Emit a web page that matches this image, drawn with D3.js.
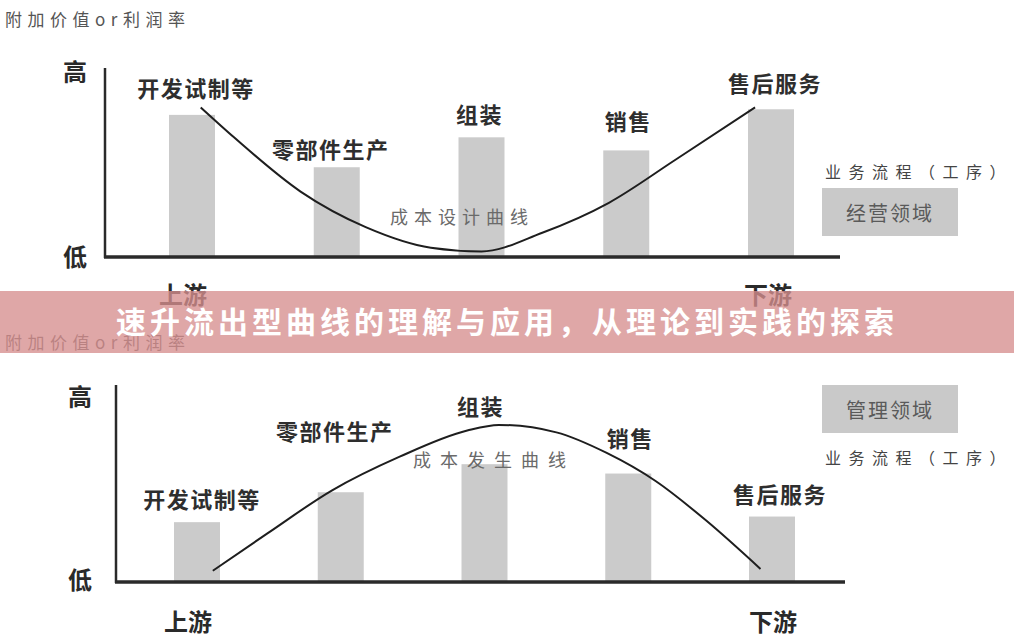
<!DOCTYPE html>
<html><head><meta charset="utf-8">
<script src="https://cdn.jsdelivr.net/npm/d3@7"></script>
<style>
html,body{margin:0;padding:0;background:#fff;}
svg{display:block;font-family:"Noto Sans CJK SC","Noto Sans",sans-serif;}
</style></head>
<body><svg id="c" width="1014" height="644"></svg>
<script>
// ---- data ----
const categories = ["开发试制等","零部件生产","组装","销售","售后服务"];
const designBars = [76, 48, 64, 57, 79];          // 上图：附加价值（成本设计）
const occurBars  = [32, 48, 63, 58, 35];          // 下图：成本发生
const designCurvePos = [0.06, 0.29, 0.75, 1.2, 1.65, 2.0, 2.42, 2.88, 3.34, 3.89];
const designCurveVal = [80, 64, 35, 16, 5, 3, 13, 29, 52, 80];
const occurCurvePos  = [0.11, 0.49, 0.94, 1.41, 1.88, 2.1, 2.5, 2.85, 3.19, 3.54, 3.92];
const occurCurveVal  = [6, 26, 49, 67, 81, 84, 80, 69, 54, 33, 7];
const yAxisLabels = ["高", "低"];
const xAxisLabels = ["上游", "下游"];
const yTitle = "附加价值or利润率";
const processLabel = "业务流程（工序）";
const domainLabels = ["经营领域", "管理领域"];
const curveLabels = ["成本设计曲线", "成本发生曲线"];
const bannerText = "速升流出型曲线的理解与应用，从理论到实践的探索";

const svg = d3.select("#c");

const panels = [
  { bars: designBars, cpos: designCurvePos, cval: designCurveVal,
    titleY: 18, axisX: 105, axisTop: 68, base: 257, axisRight: 840,
    xr: [192, 771], yTop: 70,
    labelY: [87, 148, 113, 120, 82], labelDx: [4, -6, -2, 2, 4],
    hiY: 70, loY: 255, hiX: 75, endY: 293, endX: [183, 768],
    curveLabel: curveLabels[0], clX: 462, clY: 216, clSp: 6,
    domain: domainLabels[0], boxY: 188, procY: 171 },
  { bars: occurBars, cpos: occurCurvePos, cval: occurCurveVal,
    titleY: 341, axisX: 116, axisTop: 385, base: 582, axisRight: 845,
    xr: [197, 772], yTop: 395,
    labelY: [498, 430, 405, 437, 493], labelDx: [5, -6, -4, 2, 8],
    hiY: 395, loY: 578, hiX: 80, endY: 620, endX: [188, 773],
    curveLabel: curveLabels[1], clX: 494, clY: 459, clSp: 9,
    domain: domainLabels[1], boxY: 385, procY: 457 }
];

panels.forEach(p => {
  const g = svg.append("g");
  const x = d3.scaleLinear().domain([0, categories.length - 1]).range(p.xr);
  const y = d3.scaleLinear().domain([0, 100]).range([p.base, p.yTop]);
  const barW = 46;

  // title
  g.append("text").attr("x", 5).attr("y", p.titleY).attr("dominant-baseline", "central")
    .attr("font-size", 17).attr("letter-spacing", 5.5).attr("fill", "#555").text(yTitle);

  // bars
  g.selectAll("rect.bar").data(p.bars).join("rect").attr("class", "bar")
    .attr("x", (d, i) => x(i) - barW / 2).attr("width", barW)
    .attr("y", d => y(d)).attr("height", d => y(0) - y(d))
    .attr("fill", "#cbcbcb");

  // axes
  g.append("line").attr("x1", p.axisX).attr("x2", p.axisX).attr("y1", p.axisTop).attr("y2", p.base + 1)
    .attr("stroke", "#2a2a2a").attr("stroke-width", 2.5);
  g.append("line").attr("x1", p.axisX - 1).attr("x2", p.axisRight).attr("y1", p.base).attr("y2", p.base)
    .attr("stroke", "#2a2a2a").attr("stroke-width", 3.5);

  // curve
  const pts = p.cpos.map((v, i) => [v, p.cval[i]]);
  const line = d3.line().x(d => x(d[0])).y(d => y(d[1])).curve(d3.curveMonotoneX);
  g.append("path").attr("d", line(pts)).attr("fill", "none")
    .attr("stroke", "#1e1e1e").attr("stroke-width", 2);

  // category labels
  g.selectAll("text.cat").data(categories).join("text").attr("class", "cat")
    .attr("x", (d, i) => x(i) + p.labelDx[i]).attr("y", (d, i) => p.labelY[i])
    .attr("text-anchor", "middle").attr("dominant-baseline", "central")
    .attr("font-size", 22).attr("font-weight", 700).attr("letter-spacing", 1.5)
    .attr("fill", "#2e2e2e").text(d => d);

  // high / low
  g.append("text").attr("x", p.hiX).attr("y", p.hiY).attr("text-anchor", "middle").attr("dominant-baseline", "central")
    .attr("font-size", 24).attr("font-weight", 700).attr("fill", "#2a2a2a").text(yAxisLabels[0]);
  g.append("text").attr("x", p.hiX).attr("y", p.loY).attr("text-anchor", "middle").attr("dominant-baseline", "central")
    .attr("font-size", 24).attr("font-weight", 700).attr("fill", "#2a2a2a").text(yAxisLabels[1]);
  xAxisLabels.forEach((t, i) => {
    g.append("text").attr("x", p.endX[i]).attr("y", p.endY).attr("text-anchor", "middle").attr("dominant-baseline", "central")
      .attr("font-size", 24).attr("font-weight", 700).attr("fill", "#2a2a2a").text(t);
  });

  // curve label
  g.append("text").attr("x", p.clX).attr("y", p.clY).attr("text-anchor", "middle").attr("dominant-baseline", "central")
    .attr("font-size", 18).attr("letter-spacing", p.clSp).attr("fill", "#6a6a6a").text(p.curveLabel);

  // legend box & process label
  g.append("rect").attr("x", 822).attr("y", p.boxY).attr("width", 136).attr("height", 48).attr("fill", "#c9c9c9");
  g.append("text").attr("x", 890).attr("y", p.boxY + 24).attr("text-anchor", "middle").attr("dominant-baseline", "central")
    .attr("font-size", 20).attr("letter-spacing", 2).attr("fill", "#5a5a5a").text(p.domain);
  g.append("text").attr("x", 825).attr("y", p.procY).attr("dominant-baseline", "central")
    .attr("font-size", 16).attr("letter-spacing", 7.5).attr("fill", "#444").text(processLabel);
});

// banner
svg.append("rect").attr("x", 0).attr("y", 291).attr("width", 1014).attr("height", 62)
  .attr("fill", "rgb(214,142,142)").attr("fill-opacity", 0.78);
svg.append("text").attr("x", 507).attr("y", 320).attr("text-anchor", "middle").attr("dominant-baseline", "central")
  .attr("font-size", 30).attr("font-weight", 700).attr("letter-spacing", 4).attr("fill", "#fff").text(bannerText);
</script></body></html>
